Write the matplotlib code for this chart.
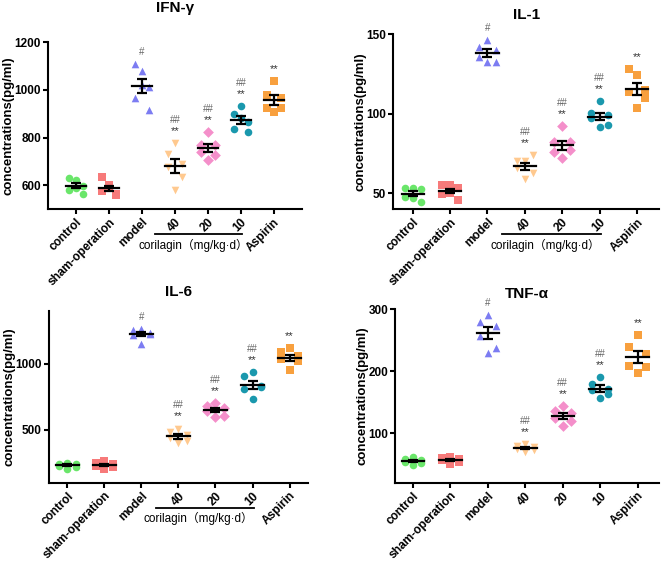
import numpy as np
import matplotlib
matplotlib.use("Agg")
import matplotlib.pyplot as plt
import matplotlib.transforms as mtransforms

plt.rcParams["font.family"] = ["Liberation Sans", "DejaVu Sans"]

# Data
groups = ["control", "sham-operation", "model", "40", "20", "10", "Aspirin"]
colors = ["#6ae66a", "#f77a7a", "#7c7cf2", "#ffc98f", "#f48fca", "#1a98ad", "#f8a03e"]
markers = ["o", "s", "^", "v", "D", "o", "s"]
marks = ["", "", "#", "##\n**", "##\n**", "##\n**", "**"]

ifn = [
    [620, 632, 598, 580, 565, 590],
    [600, 575, 565, 635, 560, 590],
    [1080, 1108, 1010, 965, 915, 1020],
    [776, 731, 690, 675, 634, 582],
    [825, 770, 768, 740, 728, 706],
    [934, 897, 866, 836, 822, 880],
    [1039, 979, 966, 923, 923, 909],
]
il1 = [
    [53, 53, 52.5, 47.5, 44.3, 47],
    [55, 55, 53, 49.5, 45.8, 50],
    [146.4, 142.2, 140, 135.5, 132.7, 132.7],
    [70, 70, 74, 66, 63, 59],
    [92, 82, 82, 76, 77, 72],
    [108, 100.5, 99, 97.6, 92.7, 91.7],
    [124.3, 127.9, 114.8, 113.8, 109.6, 103.3],
]
il6 = [
    [250, 245, 240, 230, 220, 205],
    [265, 250, 240, 230, 220, 205],
    [1262, 1255, 1235, 1215, 1225, 1150],
    [510, 480, 460, 440, 415, 400],
    [700, 680, 665, 640, 605, 600],
    [940, 905, 835, 805, 825, 735],
    [1117, 1085, 1055, 1035, 1017, 955],
]
tnf = [
    [62, 58, 56, 54, 52, 48],
    [62, 60, 58, 56, 54, 51],
    [291, 280, 272, 257, 238, 230],
    [82, 79, 77, 75, 73, 70],
    [143, 136, 133, 124, 119, 112],
    [191, 180, 171, 170, 163, 156],
    [257.8, 238.5, 228, 208, 207, 197],
]

# point spread around each group position
jitter = [0.0, -0.22, 0.22, -0.22, 0.22, 0.0]

fig = plt.figure(figsize=(6.61, 5.62), dpi=100)

panels = [
    ("IFN-γ", ifn, [0.0726, 0.628, 0.384, 0.297], (-0.85, 6.85), (500, 1200), [600, 800, 1000, 1200], True, 22),
    ("IL-1", il1, [0.5945, 0.628, 0.403, 0.311], (-0.53, 6.6), (40, 150), [50, 100, 150], True, 11),
    ("IL-6", il6, [0.074, 0.141, 0.392, 0.306], (-0.5, 6.5), (100, 1400), [500, 1000], True, 11),
    ("TNF-α", tnf, [0.5976, 0.141, 0.40, 0.309], (-0.48, 6.58), (20, 300), [100, 200, 300], False, 8),
]

for title, data, rect, xl, yl, yt, bracket, tpad in panels:
    ax = fig.add_axes(rect)
    for i, vals in enumerate(data):
        vals = np.array(vals, dtype=float)
        ax.scatter(i + np.array(jitter), vals, s=30, marker=markers[i],
                   color=colors[i], linewidths=0, zorder=2)
        m = vals.mean()
        sem = vals.std(ddof=1) / np.sqrt(len(vals))
        ax.plot([i - 0.3, i + 0.3], [m, m], color="black", lw=1.6, zorder=3)
        ax.errorbar(i, m, yerr=sem, color="black", lw=1.6, capsize=3.5,
                    capthick=1.6, zorder=3)
        if marks[i]:
            top = vals.max()
            if "##" in marks[i]:
                ax.annotate("**", (i, top), xytext=(0, 5), textcoords="offset points",
                            ha="center", va="bottom", fontsize=8, color="#333333")
                ax.annotate("##", (i, top), xytext=(0, 13), textcoords="offset points",
                            ha="center", va="bottom", fontsize=7, color="#666666")
            else:
                ax.annotate(marks[i], (i, top), xytext=(0, 5), textcoords="offset points",
                            ha="center", va="bottom", fontsize=8 if marks[i] == "**" else 7,
                            color="#333333" if marks[i] == "**" else "#666666")

    ax.set_xlim(*xl)
    ax.set_ylim(*yl)
    ax.set_yticks(yt)
    ax.set_xticks(range(len(groups)))
    ax.set_xticklabels(groups, rotation=45, ha="right", rotation_mode="anchor",
                       fontsize=8.6, fontweight="bold")
    for lab in ax.get_yticklabels():
        lab.set_fontweight("bold")
        lab.set_fontsize(8.5)
    ax.set_ylabel("concentrations(pg/ml)", fontsize=9.5, fontweight="bold", labelpad=0)
    ax.set_title(title, fontsize=11, fontweight="bold", pad=tpad)
    for s in ["top", "right"]:
        ax.spines[s].set_visible(False)
    for s in ["left", "bottom"]:
        ax.spines[s].set_linewidth(1.5)
    ax.tick_params(width=1.5, length=3.5, direction="out", pad=1.5)

    if bracket:
        trans = mtransforms.blended_transform_factory(ax.transData, ax.transAxes)
        h = rect[3] * 5.62 * 100
        ax.plot([2.4, 5.05], [-25 / h, -25 / h], color="black", lw=1.3,
                transform=trans, clip_on=False)
        ax.text(3.55, -36 / h, "corilagin（mg/kg·d）", transform=trans, ha="center",
                va="center", fontsize=8.5, family=["Liberation Sans", "Noto Sans CJK SC"])

fig.savefig("out.png", dpi=100)
